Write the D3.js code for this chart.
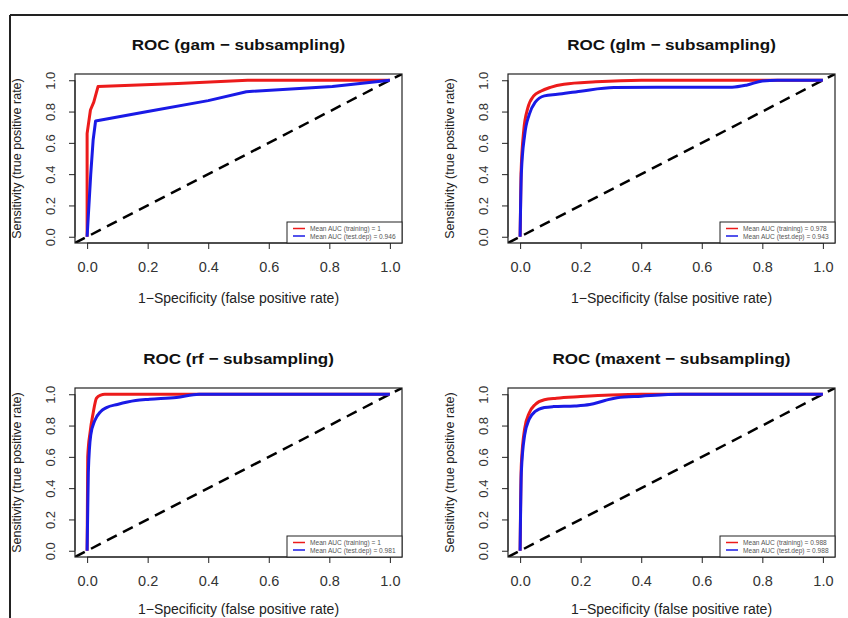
<!DOCTYPE html>
<html>
<head>
<meta charset="utf-8">
<script src="https://cdn.jsdelivr.net/npm/d3@7"></script>
<style>
  html, body { margin: 0; padding: 0; background: #fff; }
  svg { display: block; }
  text { font-family: "Liberation Sans", Arial, sans-serif; }
</style>
</head>
<body>
<svg id="svg" width="848" height="618"></svg>
<script>
(function () {
  // ---- data ----
  const panelTitles = ['ROC (gam \u2212 subsampling)', 'ROC (glm \u2212 subsampling)',
                       'ROC (rf \u2212 subsampling)', 'ROC (maxent \u2212 subsampling)'];
  const tickValues = [0, 0.2, 0.4, 0.6, 0.8, 1.0];
  const tickLabels = ['0.0', '0.2', '0.4', '0.6', '0.8', '1.0'];
  const aucTraining = ['1', '0.978', '1', '0.988'];
  const aucTestDep = ['0.946', '0.943', '0.981', '0.988'];

  const gamTrain = [[0, 0], [0, 0.66], [0.011, 0.81], [0.022, 0.86], [0.036, 0.96], [0.3, 0.98], [0.53, 1.0], [1, 1]];
  const gamTest = [[0, 0], [0.012, 0.4], [0.02, 0.62], [0.028, 0.74], [0.2, 0.8], [0.4, 0.87], [0.526, 0.927], [0.81, 0.96], [1, 1]];

  const glmTrain = [[0, 0], [0.003, 0.4], [0.012, 0.68], [0.025, 0.82], [0.045, 0.9], [0.068, 0.93], [0.1, 0.955], [0.145, 0.975], [0.25, 0.99], [0.4, 1.0], [1, 1]];
  const glmTest = [[0, 0], [0.004, 0.4], [0.015, 0.65], [0.03, 0.78], [0.05, 0.86], [0.08, 0.9], [0.123, 0.91], [0.2, 0.93], [0.31, 0.953], [0.5, 0.955], [0.7, 0.956], [0.75, 0.97], [0.8, 0.995], [0.85, 1.0], [1, 1]];

  const rfTrain = [[0, 0], [0.002, 0.6], [0.01, 0.76], [0.02, 0.88], [0.031, 0.975], [0.045, 0.995], [0.058, 1.0], [1, 1]];
  const rfTest = [[0, 0], [0.004, 0.5], [0.012, 0.74], [0.025, 0.83], [0.045, 0.89], [0.064, 0.915], [0.1, 0.935], [0.16, 0.96], [0.207, 0.968], [0.295, 0.98], [0.37, 1.0], [1, 1]];

  const maxentTrain = [[0, 0], [0.004, 0.55], [0.015, 0.78], [0.03, 0.88], [0.05, 0.935], [0.08, 0.965], [0.12, 0.975], [0.2, 0.985], [0.3, 0.995], [0.4, 1.0], [1, 1]];
  const maxentTest = [[0, 0], [0.004, 0.5], [0.015, 0.74], [0.03, 0.84], [0.05, 0.89], [0.08, 0.915], [0.11, 0.921], [0.18, 0.925], [0.23, 0.934], [0.28, 0.96], [0.32, 0.978], [0.4, 0.988], [0.53, 1.0], [1, 1]];

  const trainSeries = [gamTrain, glmTrain, rfTrain, maxentTrain];
  const testSeries = [gamTest, glmTest, rfTest, maxentTest];

  // ---- layout ----
  const boxLefts = [75, 508];
  const boxW = 327;
  const boxTops = [74, 388];
  const boxH = 169;
  const RED = '#ec1b1b';
  const BLUE = '#1a1ae6';
  const FONT = '"Liberation Sans", Arial, sans-serif';

  const svg = d3.select('#svg');

  // outer frame (top and left edges visible)
  svg.append('line').attr('x1', 10).attr('x2', 848).attr('y1', 15).attr('y2', 15)
    .attr('stroke', '#222').attr('stroke-width', 2);
  svg.append('line').attr('x1', 10).attr('x2', 10).attr('y1', 15).attr('y2', 618)
    .attr('stroke', '#222').attr('stroke-width', 2);

  panelTitles.forEach((title, i) => {
    const row = Math.floor(i / 2);
    const left = boxLefts[i % 2];
    const top = boxTops[row];
    const x = d3.scaleLinear().domain([-0.04, 1.04]).range([left, left + boxW]);
    const y = d3.scaleLinear().domain([-0.04, 1.04]).range([top + boxH, top]);
    const g = svg.append('g');

    const clipId = 'clip' + i;
    svg.append('clipPath').attr('id', clipId).append('rect')
      .attr('x', left).attr('y', top).attr('width', boxW).attr('height', boxH);

    // title (the source image is a bit stretched sideways)
    g.append('text')
      .attr('transform', `translate(${left + boxW / 2},${top - 24}) scale(1.1,1)`)
      .attr('text-anchor', 'middle')
      .attr('font-size', 15.5).attr('font-weight', 'bold').attr('fill', '#111')
      .text(title);

    // x axis (R style)
    const xAxis = d3.axisBottom(x).tickValues(tickValues)
      .tickFormat((d, k) => tickLabels[k]).tickSize(6).tickPadding(13);
    const xa = g.append('g').attr('transform', `translate(0,${top + boxH})`).call(xAxis);
    xa.select('.domain').attr('d', `M${x(0)},0H${x(1)}`).attr('stroke', '#222');
    xa.selectAll('.tick line').attr('stroke', '#222');
    xa.selectAll('.tick text').attr('font-size', 14.5).attr('fill', '#333')
      .attr('font-family', FONT);

    // y axis with rotated labels
    const yAxis = d3.axisLeft(y).tickValues(tickValues)
      .tickFormat((d, k) => tickLabels[k]).tickSize(6);
    const ya = g.append('g').attr('transform', `translate(${left},0)`).call(yAxis);
    ya.select('.domain').attr('d', `M0,${y(0)}V${y(1)}`).attr('stroke', '#222');
    ya.selectAll('.tick line').attr('stroke', '#222');
    ya.selectAll('.tick text')
      .attr('x', null).attr('dy', null)
      .attr('transform', 'translate(-25,0) rotate(-90)')
      .attr('text-anchor', 'middle').attr('dominant-baseline', 'central')
      .attr('font-size', 13).attr('fill', '#333')
      .attr('font-family', FONT);

    // axis titles (bottom row sits at the page edge, lift it a touch)
    g.append('text')
      .attr('x', left + boxW / 2).attr('y', top + boxH + (row ? 57 : 60))
      .attr('text-anchor', 'middle').attr('font-size', 14).attr('fill', '#222')
      .text('1\u2212Specificity (false positive rate)');
    g.append('text')
      .attr('transform', `translate(${left - 58},${top + boxH / 2}) rotate(-90)`)
      .attr('text-anchor', 'middle').attr('dominant-baseline', 'central')
      .attr('font-size', 12.5).attr('fill', '#222')
      .text('Sensitivity (true positive rate)');

    // plot contents
    const plot = g.append('g').attr('clip-path', `url(#${clipId})`);
    plot.append('line')
      .attr('x1', x(-0.04)).attr('y1', y(-0.04)).attr('x2', x(1.04)).attr('y2', y(1.04))
      .attr('stroke', '#000').attr('stroke-width', 2.5).attr('stroke-dasharray', '11,7');

    const smooth = i > 0;
    const line = d3.line().x(d => x(d[0])).y(d => y(d[1]))
      .curve(smooth ? d3.curveMonotoneX : d3.curveLinear);
    plot.append('path').datum(trainSeries[i]).attr('d', line)
      .attr('fill', 'none').attr('stroke', RED).attr('stroke-width', 3).attr('stroke-linejoin', 'round');
    plot.append('path').datum(testSeries[i]).attr('d', line)
      .attr('fill', 'none').attr('stroke', BLUE).attr('stroke-width', 3).attr('stroke-linejoin', 'round');

    // box
    g.append('rect').attr('x', left).attr('y', top).attr('width', boxW).attr('height', boxH)
      .attr('fill', 'none').attr('stroke', '#222').attr('stroke-width', 1.2);

    // legend
    const lw = 115, lh = 21;
    const lx = left + boxW - lw, ly = top + boxH - lh;
    const leg = g.append('g');
    leg.append('rect').attr('x', lx).attr('y', ly).attr('width', lw).attr('height', lh)
      .attr('fill', '#fff').attr('stroke', '#222').attr('stroke-width', 1);
    const entries = [
      { c: RED, t: 'Mean AUC (training) = ' + aucTraining[i] },
      { c: BLUE, t: 'Mean AUC (test.dep) = ' + aucTestDep[i] }
    ];
    entries.forEach((e, k) => {
      const yy = ly + 6.5 + k * 7.5;
      leg.append('line').attr('x1', lx + 6).attr('x2', lx + 18).attr('y1', yy).attr('y2', yy)
        .attr('stroke', e.c).attr('stroke-width', 1.5);
      leg.append('text').attr('x', lx + 23).attr('y', yy).attr('dominant-baseline', 'central')
        .attr('font-size', 6.6).attr('fill', '#555').text(e.t);
    });
  });
})();
</script>
</body>
</html>
